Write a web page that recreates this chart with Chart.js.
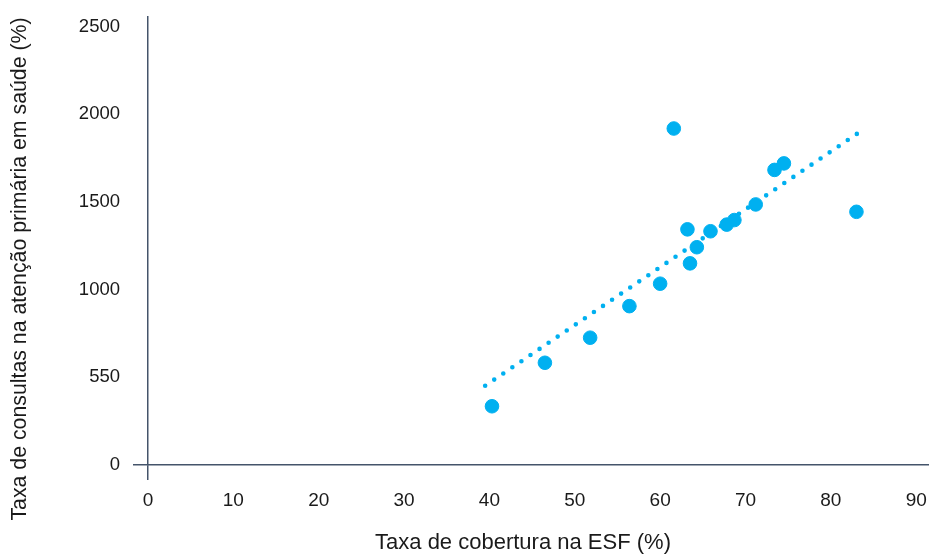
<!DOCTYPE html>
<html>
<head>
<meta charset="utf-8">
<script src="https://cdn.jsdelivr.net/npm/chart.js@4/dist/chart.umd.min.js"></script>
<style>
  html, body { margin: 0; padding: 0; background: #fff; overflow: hidden; }
  canvas { display: block; }
</style>
</head>
<body>
<canvas id="scatter-chart" width="929" height="554"></canvas>
<script>
"use strict";

// cobertura ESF (%) x consultas na APS
const coberturaEsf = [40.3, 46.5, 51.8, 56.4, 60.0, 61.6, 63.2, 63.5, 64.3, 65.9, 67.8, 68.7, 71.2, 73.4, 74.5, 83.0];
const taxaConsultas = [335, 583, 726, 906, 1034, 1919, 1344, 1150, 1242, 1333, 1371, 1397, 1486, 1683, 1720, 1444];

// linha de tendencia (extremos)
const tendenciaX = [39.5, 83.1];
const tendenciaY = [452, 1890];

const xTicks = [0, 10, 20, 30, 40, 50, 60, 70, 80, 90];
const yTicks = [0, 500, 1000, 1500, 2000, 2500];
const yTickLabels = ["0", "550", "1000", "1500", "2000", "2500"];

const xTitle = "Taxa de cobertura na ESF (%)";
const yTitle = "Taxa de consultas na atenção primária em saúde (%)";

const axisColor = "#44546a";
const dotColor = "#00b0f0";
const textColor = "#1a1a1a";
const fontFamily = "'Liberation Sans', Arial, sans-serif";

let points = coberturaEsf.map(function (v, i) {
    return { x: v, y: taxaConsultas[i] };
});
let trend = tendenciaX.map(function (v, i) {
    return { x: v, y: tendenciaY[i] };
});

// titulos dos eixos desenhados a mao (posicao igual a do original)
const axisTitles = {
    id: "axisTitles",
    afterDraw: function (chart) {
        let c = chart.ctx;
        c.save();
        c.fillStyle = textColor;
        c.textAlign = "center";
        c.textBaseline = "middle";
        c.font = "22px " + fontFamily;
        c.fillText(xTitle, 523, 543);
        c.font = "21.3px " + fontFamily;
        c.translate(20, 269);
        c.rotate(-Math.PI / 2);
        c.fillText(yTitle, 0, 0);
        c.restore();
    }
};

function tickColor(ctx) {
    return ctx.tick && ctx.tick.value === 0 ? axisColor : "rgba(0,0,0,0)";
}

let chartHtml = document.getElementById("scatter-chart");
let chart = new Chart(chartHtml, {
    type: "scatter",
    data: {
        datasets: [{
            label: "Consultas",
            data: points,
            backgroundColor: dotColor,
            borderColor: dotColor,
            pointRadius: 6.8,
            pointHoverRadius: 6.8,
            order: 1
        }, {
            label: "Tendência",
            type: "line",
            data: trend,
            borderColor: dotColor,
            borderWidth: 4.6,
            borderCapStyle: "round",
            borderDash: [0, 10.95],
            pointRadius: 0,
            fill: false,
            order: 2
        }]
    },
    options: {
        responsive: false,
        maintainAspectRatio: false,
        devicePixelRatio: 1,
        animation: false,
        layout: { autoPadding: false, padding: { top: 17, right: 0, left: 0, bottom: 0 } },
        plugins: {
            legend: { display: false },
            tooltip: { enabled: false }
        },
        scales: {
            x: {
                type: "linear",
                min: 0,
                max: 91.5,
                afterBuildTicks: function (scale) {
                    scale.ticks = xTicks.map(function (v) { return { value: v }; });
                },
                afterFit: function (scale) {
                    scale.height = 554 - 465;
                    scale.paddingLeft = 0;
                    scale.paddingRight = 0;
                },
                border: { display: true, color: axisColor, width: 1.5 },
                grid: {
                    drawOnChartArea: false,
                    drawTicks: true,
                    tickLength: 15,
                    color: tickColor,
                    lineWidth: 1.5
                },
                ticks: {
                    color: textColor,
                    padding: 9,
                    maxRotation: 0,
                    font: { family: fontFamily, size: 19 }
                }
            },
            y: {
                type: "linear",
                min: 0,
                max: 2555,
                afterBuildTicks: function (scale) {
                    scale.ticks = yTicks.map(function (v) { return { value: v }; });
                },
                afterFit: function (scale) {
                    scale.width = 148;
                    scale.paddingTop = 0;
                    scale.paddingBottom = 0;
                },
                border: { display: true, color: axisColor, width: 1.5 },
                grid: {
                    drawOnChartArea: false,
                    drawTicks: true,
                    tickLength: 15,
                    color: tickColor,
                    lineWidth: 1.5
                },
                ticks: {
                    color: textColor,
                    padding: 13,
                    font: { family: fontFamily, size: 18.5 },
                    callback: function (value) {
                        let i = yTicks.indexOf(value);
                        return i >= 0 ? yTickLabels[i] : "";
                    }
                }
            }
        }
    },
    plugins: [axisTitles]
});
</script>
</body>
</html>
